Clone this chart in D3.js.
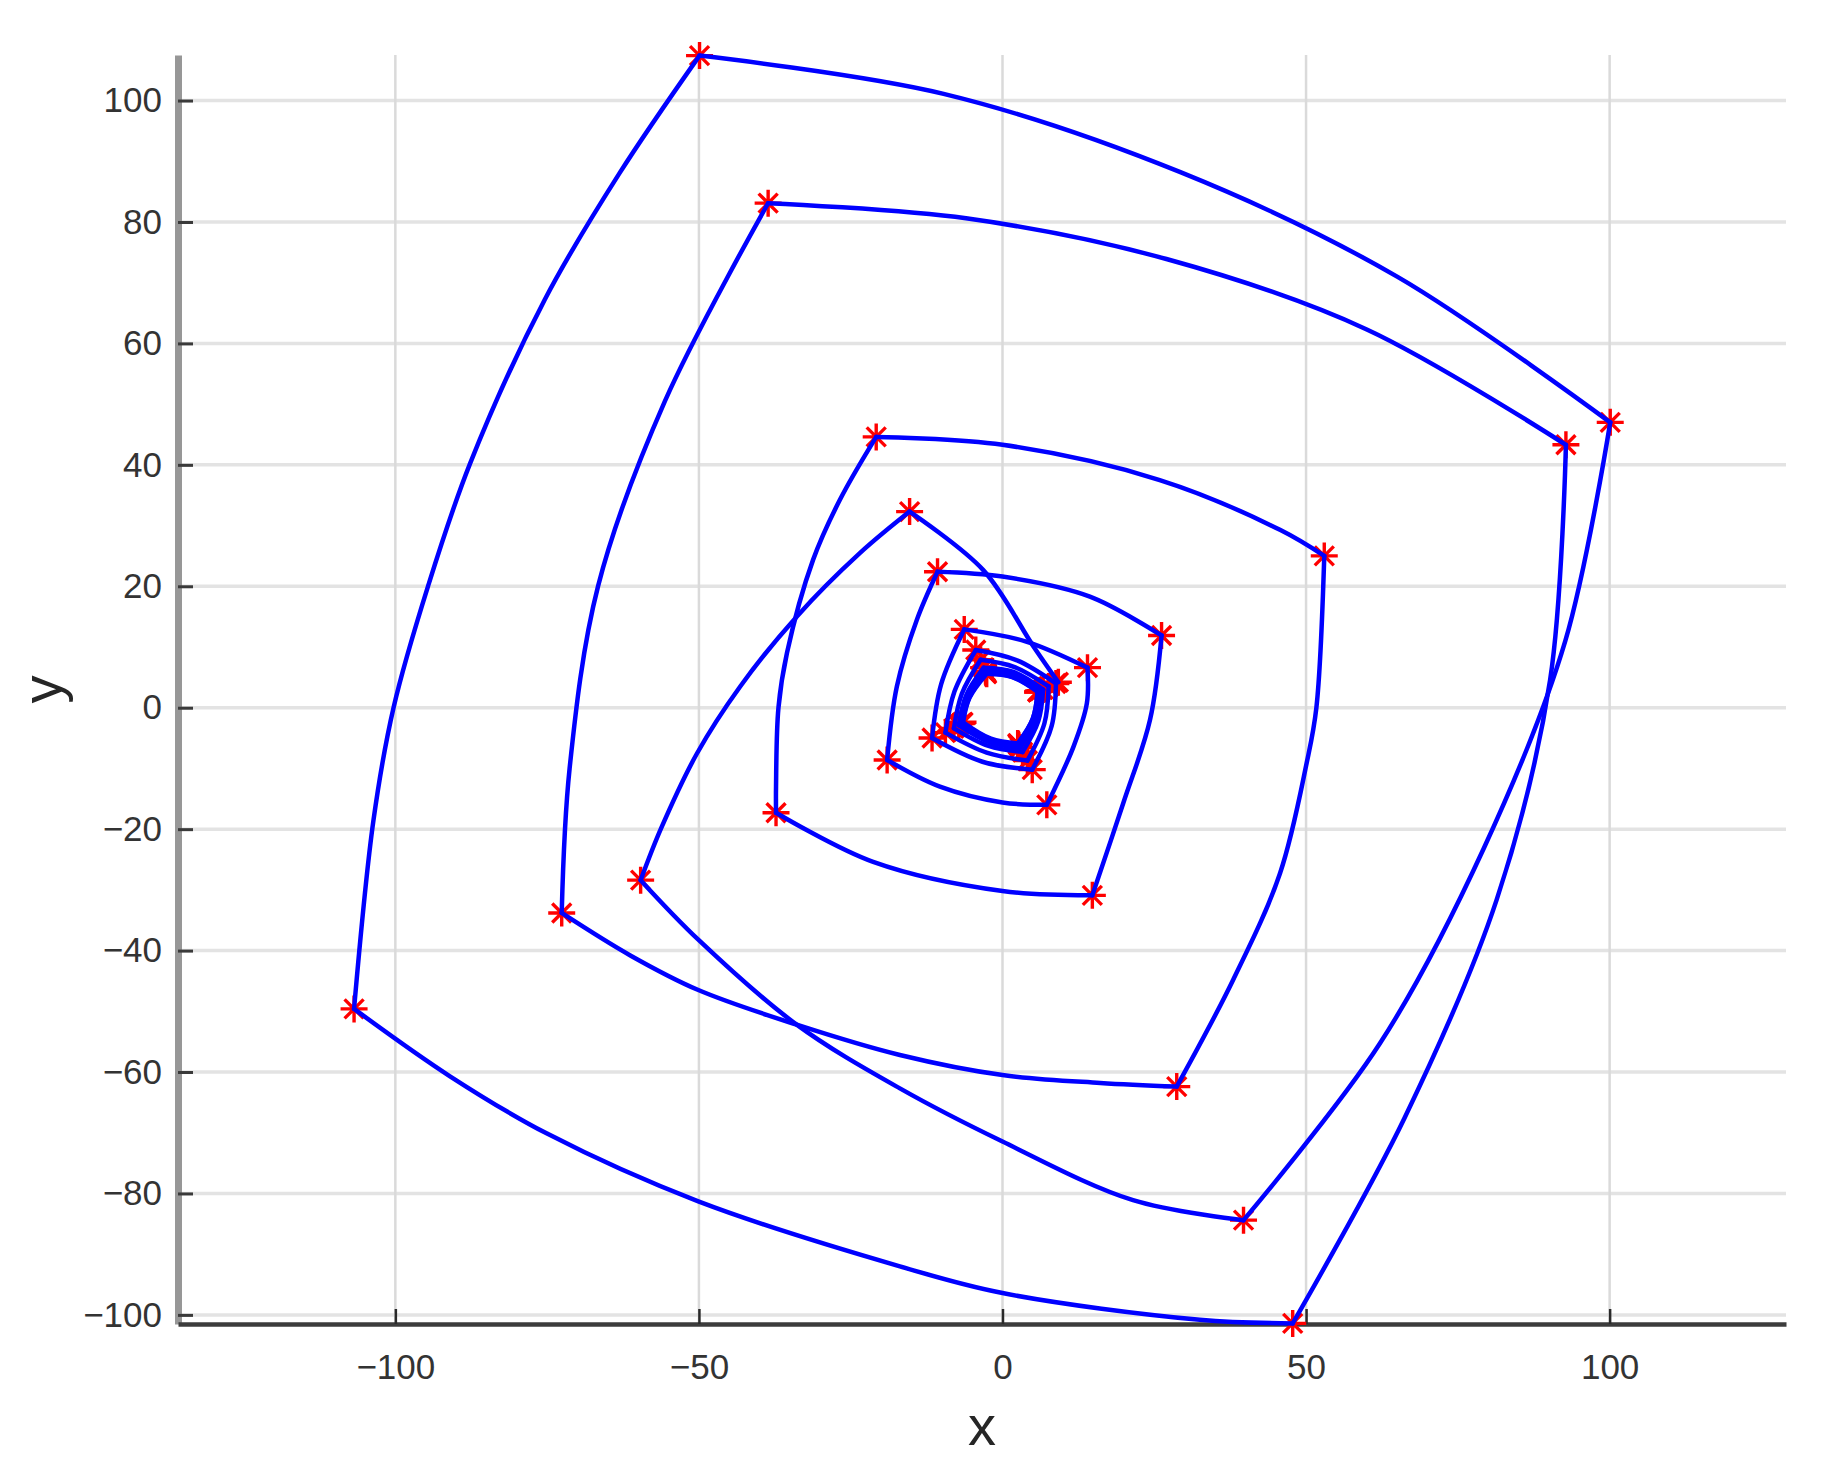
<!DOCTYPE html>
<html>
<head>
<meta charset="utf-8">
<script src="https://cdn.jsdelivr.net/npm/d3@7"></script>
<style>
  body { margin: 0; background: #fff; }
  text { font-family: "Liberation Sans", Arial, Helvetica, sans-serif; }
</style>
</head>
<body>
<div id="viz"></div>
<script>
// sampled states (red asterisks), in trajectory order
var sampleX = [9.2, -15.3, -59.6, 39.7, 100.1, -49.9, -106.8, 47.8, 92.8, -38.6, -72.6, 28.7, 53.0,
  -20.8, -37.3, 14.8, 26.2, -10.7, -19.0, 7.3, 14.0, -6.3, -11.6, 4.9, 8.8, -4.4, -9.4, 4.1, 7.6,
  -3.6, -8.0, 3.3, 6.7, -3.1, -7.2, 2.9, 6.2, -2.8, -6.8, 2.7, 6.0, -2.7, -6.7, 2.6, 5.9,
  -2.7, -6.6, 2.6, 5.8, -2.6, -6.5, 2.5, 5.8];
var sampleY = [4.2, 32.3, -28.4, -84.4, 47.0, 107.4, -49.6, -101.4, 43.3, 83.1, -33.8, -62.4, 25.0,
  44.6, -17.3, -30.9, 11.9, 22.4, -8.6, -16.0, 6.6, 12.9, -5.0, -10.2, 4.0, 9.5, -4.1, -8.7, 3.5,
  7.9, -3.4, -7.3, 3.0, 6.6, -2.9, -6.6, 2.8, 6.0, -2.6, -6.2, 2.7, 5.8, -2.5, -6.1, 2.7,
  5.7, -2.5, -6.0, 2.6, 5.6, -2.4, -5.9, 2.6];

// points read along the blue arcs, in order; viaCount = how many belong to each sampling interval
var viaCount = [2, 5, 5, 3, 3, 6, 6, 3, 3, 3, 6, 4, 3, 5, 2, 2, 2, 2, 2, 2,
  1, 1, 1, 1, 1, 1, 1, 1, 1, 1, 1, 1, 1, 1, 1, 1, 1, 1, 1, 1, 1, 1, 1, 1,
  1, 1, 1, 1, 1, 1, 1, 1];
var viaX = [5.1, -3.2,
  -23.5, -33.9, -43.2, -50.3, -56.2,
  -50.1, -33.9, -16.9, 0, 21.5,
  62.1, 79.3, 92.7,
  65.0, 29.3, -9.7,
  -63.1, -75.4, -87.7, -94.6, -100.3, -103.6,
  -91.0, -75.1, -50.1, -16.9, 0, 32.5,
  66.2, 81.4, 90.2,
  60.0, 27.0, -6.0,
  -55.6, -66.6, -71.3,
  -61.3, -50.1, -33.9, -16.9, 0, 16.1,
  38.0, 45.7, 50.1, 51.7,
  45.7, 25.9, 0,
  -26.8, -31.2, -35.5, -36.9, -37.3,
  -21.3, 0, 19.9, 24.3, 14.4, 0, -14.1, -17.4, -10.3, 0, 11.7, 13.9,
  3.9, -10.1, -3.3, 8.1, 2.4, -7.9, -2.6, 6.9, 2.0, -6.7, -2.3, 5.9,
  1.8, -6.0, -2.1, 5.4, 1.7, -5.7, -2.0, 5.2, 1.65, -5.6, -2.0, 5.1,
  1.6, -5.5, -1.95, 5.0, 1.6, -5.45, -1.9, 5.0];
var viaY = [10.1, 22.7,
  25.45, 15.0, 3.5, -7.5, -19.8,
  -38.2, -52.2, -62.7, -71.45, -81.1,
  -55.4, -23.1, 11.0,
  71.0, 88.2, 101.1,
  88.0, 67.2, 40.2, 20.07, 0, -18.5,
  -60.7, -70.1, -81.3, -92.0, -96.4, -100.8,
  -67.6, -31.6, 4.6,
  62.3, 73.9, 80.6,
  50.5, 20.07, -10.0,
  -40.8, -46.5, -52.2, -57.2, -60.5, -61.8,
  -44.8, -27.3, -9.1, 0,
  29.3, 37.5, 43.3,
  34.2, 24.35, 9.0, 0, -13.0,
  -25.4, -30.2, -15.7, -2.0, 18.3, 21.6, 14.5, 3.5, -13.0, -15.6, -6.4, 0.75,
  10.9, 3.9, -8.9, -3.0, 7.8, 2.7, -7.4, -2.6, 6.7, 2.3, -6.3, -2.2,
  5.9, 2.0, -5.7, -2.0, 5.4, 1.8, -5.4, -1.9, 5.2, 1.7, -5.3, -1.85,
  5.1, 1.65, -5.2, -1.8, 5.05, 1.6, -5.1, -1.8];

// axes
var xTicks = [-100, -50, 0, 50, 100];
var xTickLabels = ["\u2212100", "\u221250", "0", "50", "100"];
var yTicks = [-100, -80, -60, -40, -20, 0, 20, 40, 60, 80, 100];
var yTickLabels = ["\u2212100", "\u221280", "\u221260", "\u221240", "\u221220", "0", "20", "40", "60", "80", "100"];
var xLimits = [-135.8, 129.05];
var yLimits = [-101.5, 107.5];

var W = 1835, H = 1473;
var margin = {top: 55, right: 49, bottom: 149, left: 178},
  width = W - margin.left - margin.right,
  height = H - margin.top - margin.bottom;

var svg = d3.select("#viz")
  .append("svg")
  .attr("width", W)
  .attr("height", H)
  .append("g")
  .attr("transform", "translate(" + margin.left + "," + margin.top + ")");

var x = d3.scaleLinear().domain(xLimits).range([0, width]);
var y = d3.scaleLinear().domain(yLimits).range([height, 0]);

// grid
svg.append("g")
  .selectAll("line")
  .data(yTicks)
  .enter().append("line")
  .attr("x1", 0).attr("x2", width)
  .attr("y1", d => y(d)).attr("y2", d => y(d))
  .attr("stroke", "#e3e3e3")
  .attr("stroke-width", 3.5);

svg.append("g")
  .selectAll("line")
  .data(xTicks)
  .enter().append("line")
  .attr("x1", d => x(d)).attr("x2", d => x(d))
  .attr("y1", 0).attr("y2", height)
  .attr("stroke", "#dadada")
  .attr("stroke-width", 2.5);

// y axis (ticks point inward)
var yAxis = svg.append("g")
  .call(d3.axisLeft(y)
    .tickValues(yTicks)
    .tickFormat((d, i) => yTickLabels[i])
    .tickSizeInner(-15)
    .tickSizeOuter(0)
    .tickPadding(16));
yAxis.select(".domain").attr("stroke", "#979797").attr("stroke-width", 7);
yAxis.selectAll(".tick line").attr("stroke", "#3a3a3a").attr("stroke-width", 3);
yAxis.selectAll("text")
  .style("font-size", "35px")
  .attr("fill", "#333");

// x axis
var xAxis = svg.append("g")
  .attr("transform", "translate(0," + height + ")")
  .call(d3.axisBottom(x)
    .tickValues(xTicks)
    .tickFormat((d, i) => xTickLabels[i])
    .tickSizeInner(-15)
    .tickSizeOuter(0)
    .tickPadding(30));
xAxis.select(".domain").attr("stroke", "#3c3c3c").attr("stroke-width", 4.5);
xAxis.selectAll(".tick line").attr("stroke", "#2a2a2a").attr("stroke-width", 2.5);
xAxis.selectAll("text")
  .style("font-size", "35px")
  .attr("fill", "#333");

// axis titles
svg.append("text")
  .attr("x", width / 2)
  .attr("y", 1445 - margin.top)
  .attr("text-anchor", "middle")
  .style("font-size", "56px")
  .attr("fill", "#262626")
  .text("x");

svg.append("text")
  .attr("transform", "translate(" + (61 - margin.left) + "," + (height / 2) + ") rotate(-90)")
  .attr("text-anchor", "middle")
  .style("font-size", "56px")
  .attr("fill", "#262626")
  .text("y");

// red asterisk markers
var r = 13.5, q = 9.5;
var star = "M" + (-r) + ",0H" + r + "M0," + (-r) + "V" + r +
  "M" + (-q) + "," + (-q) + "L" + q + "," + q + "M" + (-q) + "," + q + "L" + q + "," + (-q);

svg.append("g")
  .selectAll("path")
  .data(sampleX.map((d, i) => [d, sampleY[i]]))
  .enter().append("path")
  .attr("d", star)
  .attr("transform", d => "translate(" + x(d[0]) + "," + y(d[1]) + ")")
  .attr("fill", "none")
  .attr("stroke", "#ff0000")
  .attr("stroke-width", 3.4);

// blue trajectory, one smooth arc per sampling interval
var arc = d3.line()
  .x(d => x(d[0]))
  .y(d => y(d[1]))
  .curve(d3.curveCatmullRom.alpha(0.5));

var k = 0;
var segments = viaCount.map(function (n, i) {
  var pts = [[sampleX[i], sampleY[i]]];
  for (var j = 0; j < n; j++, k++) pts.push([viaX[k], viaY[k]]);
  pts.push([sampleX[i + 1], sampleY[i + 1]]);
  return pts;
});

svg.append("g")
  .selectAll("path")
  .data(segments)
  .enter().append("path")
  .attr("d", arc)
  .attr("fill", "none")
  .attr("stroke", "#0000ff")
  .attr("stroke-width", 4.5)
  .attr("stroke-linecap", "round")
  .attr("stroke-linejoin", "round");
</script>
</body>
</html>
